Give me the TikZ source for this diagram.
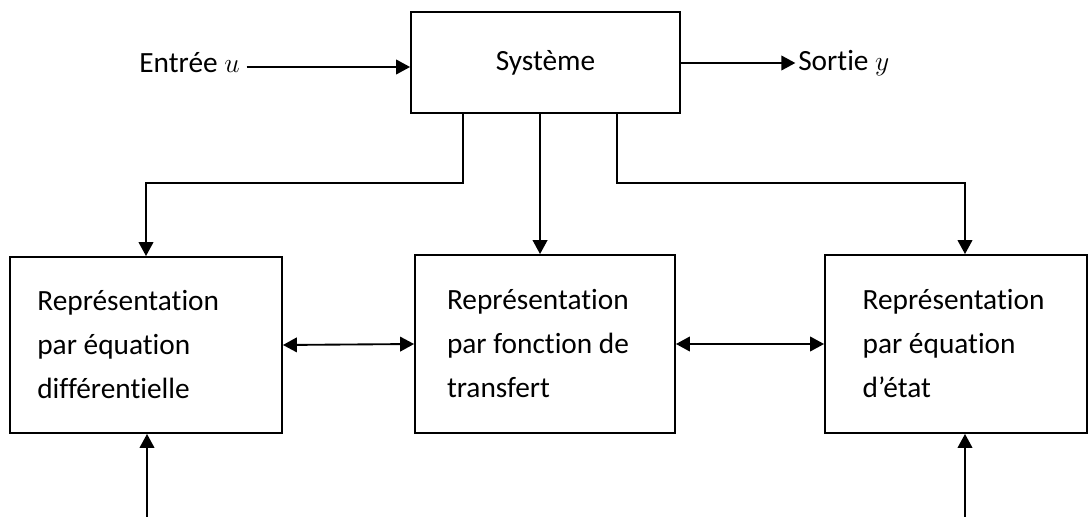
\documentclass[tikz,border=0pt]{standalone}
\usepackage{fontspec}
\setmainfont{Carlito}[Ligatures=NoCommon]
\usetikzlibrary{arrows.meta,calc}
\begin{document}
\begin{tikzpicture}[x=0.75pt,y=-0.75pt,
  every node/.style={font=\fontsize{22}{33}\selectfont},
  block/.style={draw,line width=1.4pt,rectangle,inner sep=0pt},
  repbox/.style={block,align=flush left},
  arr/.style={line width=1.4pt,-{Triangle[length=10.5pt,width=11pt]}},
  darr/.style={line width=1.4pt,{Triangle[length=10.5pt,width=11pt]}-{Triangle[length=10.5pt,width=11pt]}}]
\useasboundingbox (0,0) rectangle (1089,517);
% main block
\node[block,minimum width=201.75pt,minimum height=75.75pt] (sys) at (545.5,62.5) {Système};
\node[anchor=east,inner sep=0pt] (in) at (240,63) {Entrée $u$};
\node[anchor=west,inner sep=0pt] (out) at (798,63) {Sortie $y$};
% representation blocks
\node[repbox,minimum width=204pt,minimum height=132pt,text width=163pt] (L) at (146,345)
  {Représentation\\par équation\\différentielle};
\node[repbox,minimum width=195pt,minimum height=133.5pt,text width=147pt] (M) at (545,344)
  {Représentation\\par fonction de\\transfert};
\node[repbox,minimum width=196.5pt,minimum height=133.5pt,text width=140pt] (R) at (956,344)
  {Représentation\\par équation\\d’état};
% input / output
\coordinate (ia) at ([xshift=5pt,yshift=-3pt]in.east);
\draw[arr] (ia) -- (sys.west |- ia);
\draw[arr] (sys.east |- out.west) -- ([xshift=-2pt]out.west);
% branches from the system block
\draw[arr] ([xshift=-61.9pt]sys.south) -- ++(0,69) -| (L.north);
\draw[arr] ([xshift=-4.1pt]sys.south) -- ([xshift=-4.1pt]sys.south |- M.north);
\draw[arr] ([xshift=53.6pt]sys.south) -- ++(0,69) -| ([xshift=6.75pt]R.north);
% links between representations
\draw[darr] (L.east) -- (M.west);
\draw[darr] (M.east) -- (R.west);
% incoming arrows from below
\coordinate (lb) at (147,517);
\coordinate (rb) at (965,517);
\draw[arr] (lb) -- (lb |- L.south);
\draw[arr] (rb) -- (rb |- R.south);
\end{tikzpicture}
\end{document}
